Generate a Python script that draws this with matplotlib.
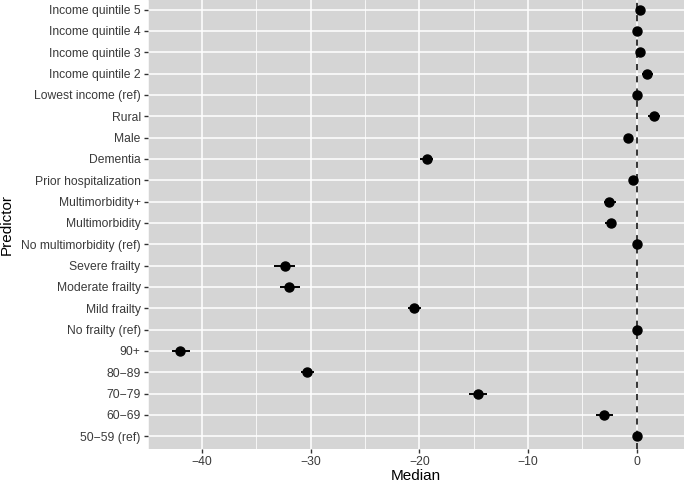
import numpy as np
import matplotlib
matplotlib.use("Agg")
import matplotlib.pyplot as plt
from matplotlib.ticker import MultipleLocator

# predictors, bottom to top
predictors = ["50\u221259 (ref)", "60\u221269", "70\u221279", "80\u221289", "90+",
              "No frailty (ref)", "Mild frailty", "Moderate frailty", "Severe frailty",
              "No multimorbidity (ref)", "Multimorbidity", "Multimorbidity+",
              "Prior hospitalization", "Dementia", "Male", "Rural",
              "Lowest income (ref)", "Income quintile 2", "Income quintile 3",
              "Income quintile 4", "Income quintile 5"]
median = [0.0, -3.0, -14.6, -30.3, -42.0,
          0.0, -20.45, -31.95, -32.4,
          0.0, -2.4, -2.5,
          -0.3, -19.3, -0.83, 1.6,
          0.0, 1.0, 0.34, 0.0, 0.28]
lower = [0.0, -3.75, -15.4, -30.9, -42.8,
         0.0, -21.05, -32.8, -33.4,
         0.0, -2.9, -3.0,
         -0.4, -19.9, -0.95, 1.05,
         0.0, 0.5, 0.1, -0.1, 0.0]
upper = [0.0, -2.15, -13.8, -29.7, -41.1,
         0.0, -19.85, -31.0, -31.4,
         0.0, -1.85, -1.9,
         -0.2, -18.7, -0.7, 2.15,
         0.0, 1.5, 0.6, 0.1, 0.55]

plt.rcParams['font.family'] = ['Liberation Sans', 'DejaVu Sans']

fig = plt.figure(figsize=(6.85, 4.82), dpi=100)
ax = fig.add_axes([0.2156, 0.0685, 0.7835, 0.9315])

y = np.arange(len(predictors))
med = np.array(median)
err = np.vstack([med - np.array(lower), np.array(upper) - med])

ax.set_facecolor("#d5d5d5")
ax.axvline(0, color="black", linestyle=(0, (4, 4)), linewidth=1.1, zorder=2)
ax.errorbar(med, y, xerr=err, fmt="o", color="black", markersize=6.5,
            elinewidth=1.4, capsize=0, zorder=3)

ax.set_xlim(-45.0, 4.4)
ax.set_ylim(-0.6, len(predictors) - 1 + 0.45)
ax.xaxis.set_major_locator(MultipleLocator(10))
ax.xaxis.set_minor_locator(MultipleLocator(5))
ax.set_yticks(y)
ax.set_yticklabels(predictors)

ax.grid(which="major", color="white", linewidth=1.1)
ax.grid(which="minor", axis="x", color="white", linewidth=0.55)
ax.set_axisbelow(True)
for s in ax.spines.values():
    s.set_visible(False)

ax.tick_params(which="major", length=3, width=1, color="#333333",
               labelcolor="#3a3a3a", labelsize=8.7, pad=2)
ax.tick_params(which="minor", length=0)

ax.set_xlabel("Median", fontsize=11, labelpad=1)
ax.set_ylabel("Predictor", fontsize=11)
ax.yaxis.set_label_coords(-0.249, 0.5)

fig.savefig("out.png", dpi=100)
